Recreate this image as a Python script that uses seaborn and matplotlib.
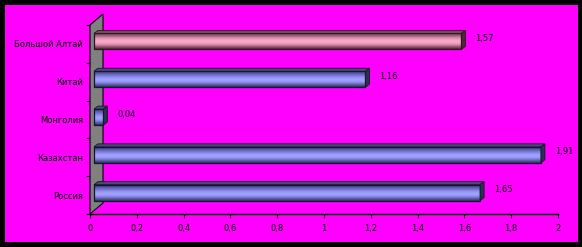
import numpy as np
import matplotlib
matplotlib.use("Agg")
import matplotlib.pyplot as plt
import matplotlib.transforms as mtransforms
from matplotlib.colors import LinearSegmentedColormap
from matplotlib.patches import Rectangle, Polygon
import seaborn as sns
import pandas as pd

categories = ["Большой Алтай", "Китай", "Монголия", "Казахстан", "Россия"]
values = [1.57, 1.16, 0.04, 1.91, 1.65]
value_labels = ["1,57", "1,16", "0,04", "1,91", "1,65"]
xticks = [0, 0.2, 0.4, 0.6, 0.8, 1.0, 1.2, 1.4, 1.6, 1.8, 2.0]
xtick_labels = ["0", "0,2", "0,4", "0,6", "0,8", "1", "1,2", "1,4", "1,6", "1,8", "2"]
highlight = "Большой Алтай"

MAGENTA = "#FF00FF"
W, H = 582, 247

sns.set_style("white")
plt.rcParams["font.family"] = ["DejaVu Sans"]

fig = plt.figure(figsize=(W / 100, H / 100), dpi=100)
fig.patch.set_facecolor("black")
fig.add_artist(Rectangle((5 / W, 5 / H), 573 / W, 237 / H, transform=fig.transFigure,
                         facecolor=MAGENTA, edgecolor="none", zorder=-10))

ax = fig.add_axes([90 / W, 1 - 214 / H, 468 / W, 189 / H])
ax.set_facecolor("none")

df = pd.DataFrame({"cat": categories, "val": values})
sns.barplot(data=df, x="val", y="cat", orient="h", width=0.42, ax=ax,
            color="#8080FF", edgecolor="none", saturation=1)

ax.set_xlim(0, 2)
ax.set_ylim(4.5, -0.5)
ax.set_xlabel("")
ax.set_ylabel("")
for s in ["top", "right", "left"]:
    ax.spines[s].set_visible(False)
ax.spines["bottom"].set_color("black")
ax.spines["bottom"].set_linewidth(1.0)
ax.set_xticks(xticks)
ax.set_xticklabels(xtick_labels)
ax.tick_params(axis="x", direction="out", length=3, width=0.8, color="black",
               labelsize=6, pad=4, labelcolor="black", bottom=True)
ax.set_yticks(range(len(categories)))
ax.set_yticklabels(categories)
ax.tick_params(axis="y", length=0, labelsize=6, pad=5, labelcolor="black")
ax.set_yticks(np.arange(-0.5, len(categories), 1.0), minor=True)
ax.tick_params(axis="y", which="minor", direction="out", length=3, width=0.8,
               color="black", left=True)

# 3D wall on the left
wdx, wdy = 13 / 468, 11 / 189
wall = Polygon([(0, 0), (0, 1.0), (wdx, 1 + wdy), (wdx, wdy)], closed=True,
               transform=ax.transAxes, facecolor="#808080", edgecolor="black",
               linewidth=0.8, clip_on=False, zorder=0.5)
ax.add_patch(wall)

blue_cmap = LinearSegmentedColormap.from_list(
    "b", ["#3a3a6a", "#5a5aa8", "#7878d8", "#9898f8", "#a4a4ff", "#8c8cec", "#5c5cac", "#303060"])
pink_cmap = LinearSegmentedColormap.from_list(
    "p", ["#5a3848", "#985870", "#d488a8", "#f4a4c4", "#f8acc8", "#e090b0", "#9c5878", "#502838"])

fig.canvas.draw()
inv = ax.transData.inverted()
p0 = inv.transform((0, 0))
p1 = inv.transform((4, 3))
ddx = p1[0] - p0[0]
ddy = p1[1] - p0[1]  # negative (inverted y axis)
ps = inv.transform((4, 2.5))
sx = ps[0] - p0[0]
sy = ps[1] - p0[1]

grad = np.linspace(0, 1, 64).reshape(-1, 1)
bar_patches = [p for p in ax.patches if p is not wall]
for p, cat, lab in zip(bar_patches, categories, value_labels):
    x, y = p.get_x() + sx, p.get_y() + sy
    w, h = p.get_width(), p.get_height()
    cmap = pink_cmap if cat == highlight else blue_cmap
    dark = "#2e2e50" if cat != highlight else "#4a2838"
    topc = "#4a4a7c" if cat != highlight else "#7a4860"
    edge = "#14142a" if cat != highlight else "#2a1420"
    p.set_visible(False)
    ax.imshow(grad, aspect="auto", cmap=cmap, extent=(x, x + w, y + h, y),
              zorder=2, interpolation="bilinear")
    ax.add_patch(Rectangle((x, y), w, h, facecolor="none", edgecolor=edge,
                           linewidth=0.9, zorder=3))
    ax.add_patch(Polygon([(x, y), (x + ddx, y + ddy), (x + w + ddx, y + ddy), (x + w, y)],
                         closed=True, facecolor=topc, edgecolor=edge,
                         linewidth=0.6, zorder=3, clip_on=False))
    ax.add_patch(Polygon([(x + w, y), (x + w + ddx, y + ddy), (x + w + ddx, y + h + ddy),
                          (x + w, y + h)], closed=True, facecolor=dark,
                         edgecolor=edge, linewidth=0.6, zorder=3, clip_on=False))
    ax.text(x + w + ddx, y + h / 2 + ddy, lab, fontsize=6, color="black", va="center",
            ha="left",
            transform=ax.transData + mtransforms.ScaledTranslation(10 / 100, 0, fig.dpi_scale_trans),
            zorder=4)

ax.set_xlim(0, 2)
ax.set_ylim(4.5, -0.5)

fig.savefig("out.png", dpi=100, facecolor=fig.get_facecolor())
